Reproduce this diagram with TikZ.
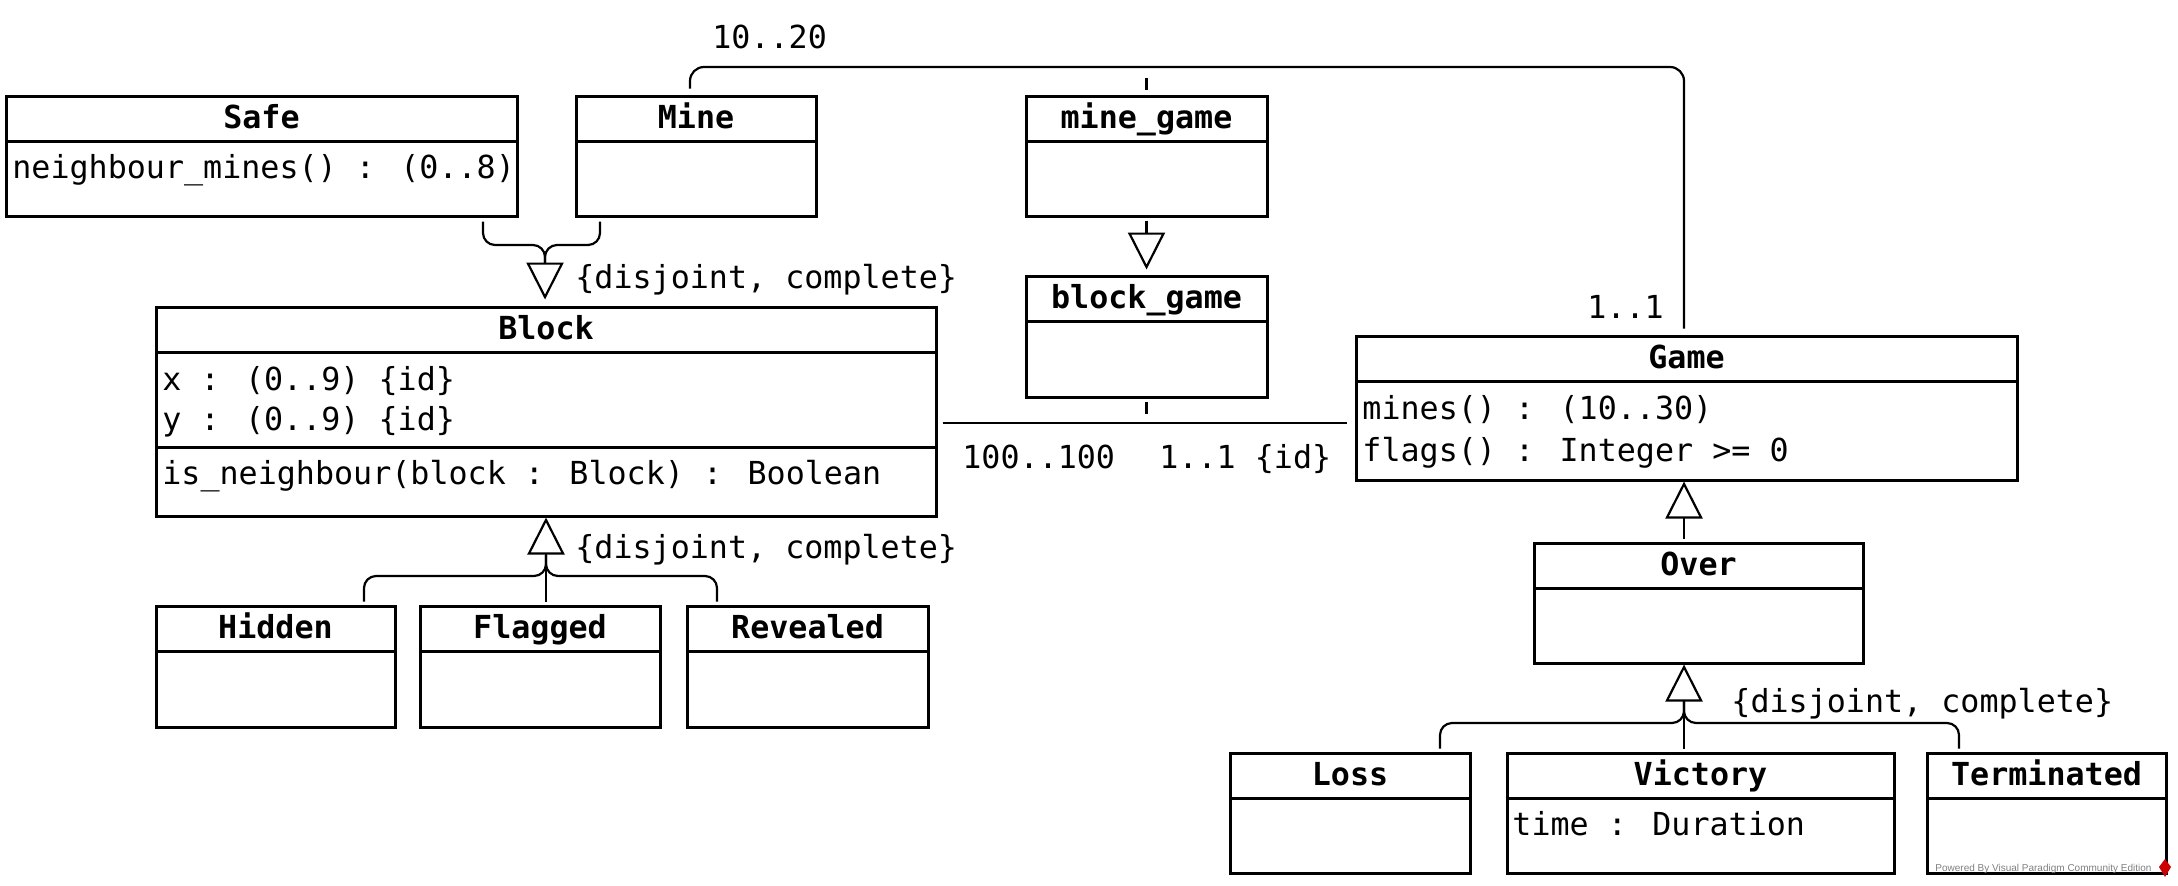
\documentclass[tikz,border=0pt]{standalone}
\usepackage{fontspec}
\setmainfont{DejaVu Sans Mono}
\newfontfamily\wmfont{Liberation Sans}
\usetikzlibrary{arrows.meta,fit}

\newcommand\umlclass[6]{%
  \node[cls, fit={(#2,#3)(#4,#5)}] (#1) {};
  \pgfmathsetmacro\ucx{(#2+#4)/2}%
  \pgfmathsetmacro\udy{#3+45}%
  \pgfmathsetmacro\uty{#3+32}%
  \draw[divl] (#2,\udy) -- (#4,\udy);
  \node[ttl] (#1-title) at (\ucx,\uty) {#6};
}

\begin{document}
\begin{tikzpicture}[x=0.5pt,y=-0.5pt,
  every node/.style={font=\fontsize{15.85}{19}\selectfont},
  cls/.style={draw, line width=1.5pt, inner sep=0pt, fill=white},
  divl/.style={line width=1.5pt},
  ttl/.style={anchor=base, inner sep=0pt, font=\fontsize{15.85}{19}\selectfont\bfseries},
  txt/.style={anchor=base west, inner sep=0pt},
  conn/.style={line width=1.1pt, rounded corners=6pt},
  gen/.style={conn, -{Triangle[open, length=18.5pt, width=18.5pt]}},
]
\fill[white] (0,0) rectangle (2178,885);
\useasboundingbox (0,0) rectangle (2178,885);

% classes
\umlclass{safe}{6}{96}{517}{216}{Safe}
\umlclass{mine}{576}{96}{816}{216}{Mine}
\umlclass{minegame}{1026}{96}{1267}{216}{mine\_game}
\umlclass{blockgame}{1026}{276}{1267}{397}{block\_game}
\umlclass{block}{156}{307}{936}{516}{Block}
\draw[divl] (156,447) -- (936,447);
\umlclass{game}{1356}{336}{2017}{480}{Game}
\umlclass{hidden}{156}{606}{395}{727}{Hidden}
\umlclass{flagged}{420}{606}{660}{727}{Flagged}
\umlclass{revealed}{687}{606}{928}{727}{Revealed}
\umlclass{over}{1534}{543}{1863}{663}{Over}
\umlclass{loss}{1230}{753}{1470}{873}{Loss}
\umlclass{victory}{1507}{753}{1894}{873}{Victory}
\umlclass{terminated}{1927}{753}{2166}{873}{Terminated}

% attributes / operations
\node[txt] (safe-a1) at (12,178) {neighbour\_mines() : (0..8)};
\node[txt] (block-a1) at (162,390) {x : (0..9) \{id\}};
\node[txt] (block-a2) at (162,430) {y : (0..9) \{id\}};
\node[txt] (block-o1) at (162,484) {is\_neighbour(block : Block) : Boolean};
\node[txt] (game-a1) at (1362,419) {mines() : (10..30)};
\node[txt] (game-a2) at (1362,461) {flags() : Integer >= 0};
\node[txt] (victory-a1) at (1512,835) {time : Duration};

% helper coordinates
\coordinate (topline) at (0,67);
\coordinate (ay) at (0,423);
\coordinate (mtx) at (690,0);
\coordinate (sx) at (483,0);
\coordinate (mx) at (600,0);
\coordinate (j1) at (545,245);
\coordinate (b1) at (545,263);
\coordinate (hx) at (364,0);
\coordinate (rx) at (717,0);
\coordinate (j2) at (546,576);
\coordinate (b2) at (546,555);
\coordinate (ox) at (1684,0);
\coordinate (lx) at (1440,0);
\coordinate (tx) at (1959,0);
\coordinate (j3) at (1684,723);
\coordinate (b3) at (1684,700);

% association Mine - Game
\draw[conn, rounded corners=7pt, shorten <=3pt, shorten >=3pt]
  (mine.north -| mtx) |- (topline -| ox) -- (game.north -| ox);
% association Block - Game
\draw[conn, shorten <=2.5pt, shorten >=4pt] (block.east |- ay) -- (game.west |- ay);
% association class links (dashed)
\draw[conn, dash pattern=on 0pt off 5.5pt on 6pt off 40pt] (minegame.north |- topline) -- (minegame.north);
\draw[conn, dash pattern=on 0pt off 1.5pt on 6pt off 40pt] (blockgame.south) -- (blockgame.south |- ay);
% mine_game -> block_game
\draw[gen, shorten <=1.5pt, shorten >=2.5pt] (minegame.south) -- (blockgame.north);

% Safe, Mine -> Block
\draw[gen, shorten <=2pt, shorten >=3pt] (safe.south -| sx) |- (j1) -- (block.north -| j1);
\draw[conn, shorten <=2pt] (mine.south -| mx) |- (j1) -- (b1);
% Hidden, Flagged, Revealed -> Block
\draw[gen, shorten <=1.5pt] (flagged.north -| block.south) -- (block.south);
\draw[conn, shorten <=1.5pt] (hidden.north -| hx) |- (j2) -- (b2);
\draw[conn, shorten <=1.5pt] (revealed.north -| rx) |- (j2) -- (b2);
% Over -> Game
\draw[gen, shorten <=1.5pt] (over.north -| ox) -- (game.south -| ox);
% Loss, Victory, Terminated -> Over
\draw[gen, shorten <=1.5pt] (victory.north -| ox) -- (over.south -| ox);
\draw[conn, shorten <=1.5pt] (loss.north -| lx) |- (j3) -- (b3);
\draw[conn, shorten <=1.5pt] (terminated.north -| tx) |- (j3) -- (b3);

% labels
\node[txt] (m1020) at (712,48) {10..20};
\node[txt] (m11a) at (1587,318) {1..1};
\node[txt] (m100) at (962,468) {100..100};
\node[txt] (m11b) at (1159,468) {1..1 \{id\}};
\node[txt] (gs1) at (575,288) {\{disjoint, complete\}};
\node[txt] (gs2) at (575,558) {\{disjoint, complete\}};
\node[txt] (gs3) at (1731,712) {\{disjoint, complete\}};

% watermark
\node[anchor=base west, inner sep=0pt, text=gray, font=\wmfont\fontsize{5}{6}\selectfont] (wm) at (1935,871) {Powered By Visual Paradigm Community Edition};
\fill[red!80!black] (2165,859) -- (2171,867) -- (2165,877) -- (2159,867) -- cycle;
\end{tikzpicture}
\end{document}
